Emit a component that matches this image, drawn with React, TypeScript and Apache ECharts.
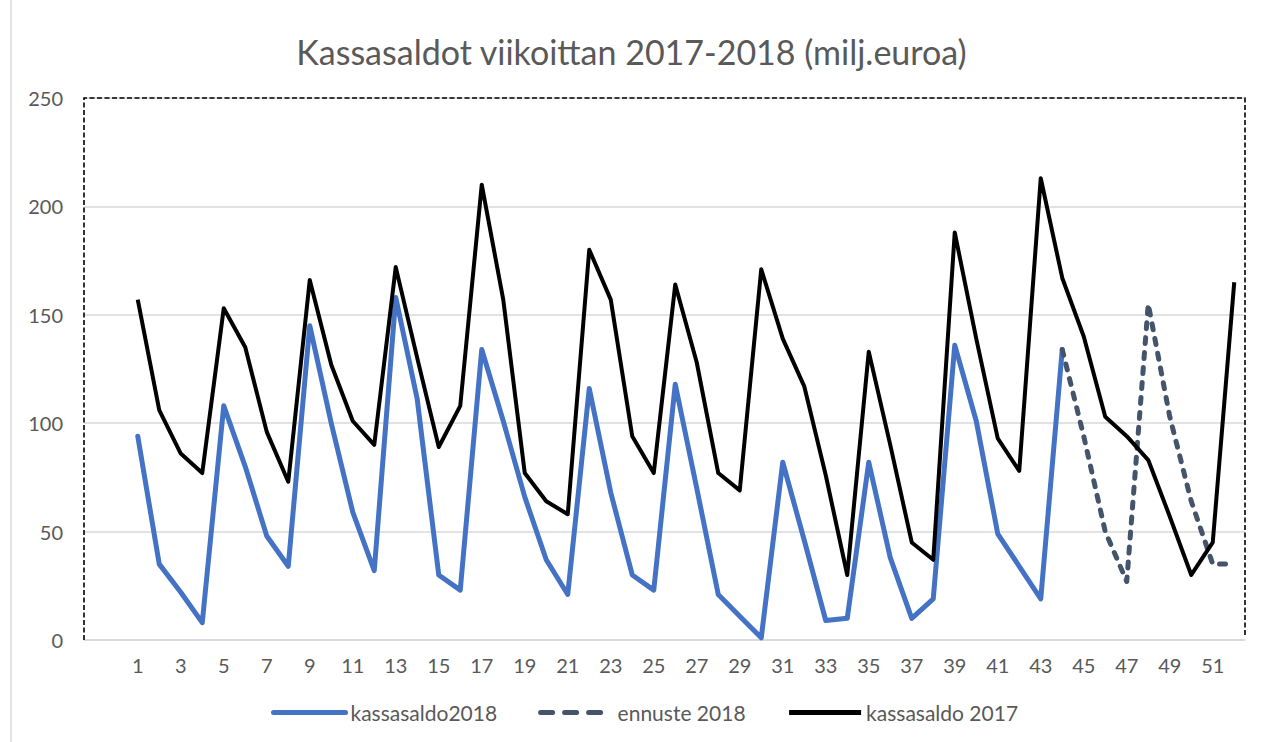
import React, { useEffect, useRef } from "react";
import * as echarts from "echarts";

const titleText = "Kassasaldot viikoittan 2017-2018 (milj.euroa)";

const weeks = [
  "1", "2", "3", "4", "5", "6", "7", "8", "9", "10",
  "11", "12", "13", "14", "15", "16", "17", "18", "19", "20",
  "21", "22", "23", "24", "25", "26", "27", "28", "29", "30",
  "31", "32", "33", "34", "35", "36", "37", "38", "39", "40",
  "41", "42", "43", "44", "45", "46", "47", "48", "49", "50",
  "51", "52",
];

// weeks 1..44
const kassasaldo2018 = [
  94, 35, 22, 8, 108, 80, 48, 34, 145, 100,
  59, 32, 158, 111, 30, 23, 134, 101, 66, 37,
  21, 116, 68, 30, 23, 118, 70, 21, 11, 1,
  82, 46, 9, 10, 82, 38, 10, 19, 136, 101,
  49, 34, 19, 134,
];

// forecast, weeks 44..52
const ennusteStartWeek = 44;
const ennuste2018 = [134, 94, 50, 27, 155, 103, 64, 35, 35];

// weeks 1..52
const kassasaldo2017 = [
  157, 106, 86, 77, 153, 135, 96, 73, 166, 127,
  101, 90, 172, 130, 89, 108, 210, 157, 77, 64,
  58, 180, 157, 94, 77, 164, 128, 77, 69, 171,
  139, 117, 76, 30, 133, 90, 45, 37, 188, 139,
  93, 78, 213, 167, 140, 103, 94, 83, 57, 30,
  45, 165,
];

const yMin = 0;
const yMax = 250;
const yInterval = 50;

const seriesNames = ["kassasaldo2018", "ennuste 2018", "kassasaldo 2017"];

const FONT = "Lato";
const GRAY_TEXT = "#595959";
const GRID_LINE = "#d9d9d9";

export default function App() {
  const ref = useRef<HTMLDivElement>(null);

  useEffect(() => {
    document.body.style.margin = "0";
    if (!ref.current) return;
    const chart = echarts.init(ref.current, undefined, { renderer: "svg" });

    // two empty leading categories reproduce the offset of week 1 from the plot edge
    const pad = ["", ""];
    const xData = [...pad, ...weeks];
    const padNulls = pad.map(() => null);
    const blueData = [...padNulls, ...kassasaldo2018];
    const forecastData = [
      ...padNulls,
      ...weeks.slice(0, ennusteStartWeek - 1).map(() => null),
      ...ennuste2018,
    ];
    const blackData = [...padNulls, ...kassasaldo2017];

    const L = 84, R = 1245, T = 98, B = 640;

    chart.setOption({
      animation: false,
      backgroundColor: "#ffffff",
      title: {
        text: titleText,
        left: "center",
        top: 29,
        textStyle: {
          color: GRAY_TEXT,
          fontSize: 34,
          fontWeight: "normal",
          fontFamily: FONT,
        },
      },
      grid: {
        left: L,
        right: 1263 - R,
        top: T,
        bottom: 742 - B,
        containLabel: false,
      },
      legend: {
        left: 266,
        top: 697,
        itemWidth: 72,
        itemHeight: 6,
        itemGap: 41,
        itemStyle: { opacity: 0 },
        lineStyle: { width: 5 },
        textStyle: { color: GRAY_TEXT, fontSize: 21, fontFamily: FONT },
        data: [
          { name: seriesNames[0] },
          { name: seriesNames[1], lineStyle: { width: 5, type: [12, 12], cap: "round" } },
          { name: seriesNames[2] },
        ],
      },
      xAxis: {
        type: "category",
        data: xData,
        boundaryGap: true,
        axisLine: { show: true, lineStyle: { color: GRID_LINE, width: 1.5 } },
        axisTick: { show: false },
        axisLabel: {
          interval: 1,
          color: GRAY_TEXT,
          fontSize: 20,
          fontFamily: FONT,
          margin: 15,
        },
        splitLine: { show: false },
      },
      yAxis: {
        type: "value",
        min: yMin,
        max: yMax,
        interval: yInterval,
        axisLine: { show: false },
        axisTick: { show: false },
        axisLabel: {
          color: GRAY_TEXT,
          fontSize: 20,
          fontFamily: FONT,
          margin: 21,
        },
        splitLine: { show: true, lineStyle: { color: GRID_LINE, width: 1.5 } },
      },
      graphic: [
        {
          type: "polyline",
          silent: true,
          z: 10,
          shape: { points: [[L, B], [L, T], [R, T], [R, B - 3]] },
          style: { stroke: "#000", lineWidth: 1.6, fill: null, lineDash: [5, 2.5] },
        },
        {
          type: "line",
          silent: true,
          shape: { x1: 11, y1: 0, x2: 11, y2: 742 },
          style: { stroke: GRID_LINE, lineWidth: 1.5 },
        },
      ],
      series: [
        {
          name: seriesNames[0],
          type: "line",
          data: blueData,
          symbol: "none",
          lineStyle: { color: "#4472C4", width: 5, join: "round", cap: "round" },
          itemStyle: { color: "#4472C4" },
        },
        {
          name: seriesNames[1],
          type: "line",
          data: forecastData,
          symbol: "none",
          lineStyle: { color: "#44546A", width: 5, type: [6, 9], cap: "round", join: "round" },
          itemStyle: { color: "#44546A" },
        },
        {
          name: seriesNames[2],
          type: "line",
          data: blackData,
          symbol: "none",
          lineStyle: { color: "#000000", width: 4, join: "round" },
          itemStyle: { color: "#000000" },
        },
      ],
    });

    return () => chart.dispose();
  }, []);

  return <div ref={ref} style={{ width: 1263, height: 742 }} />;
}
